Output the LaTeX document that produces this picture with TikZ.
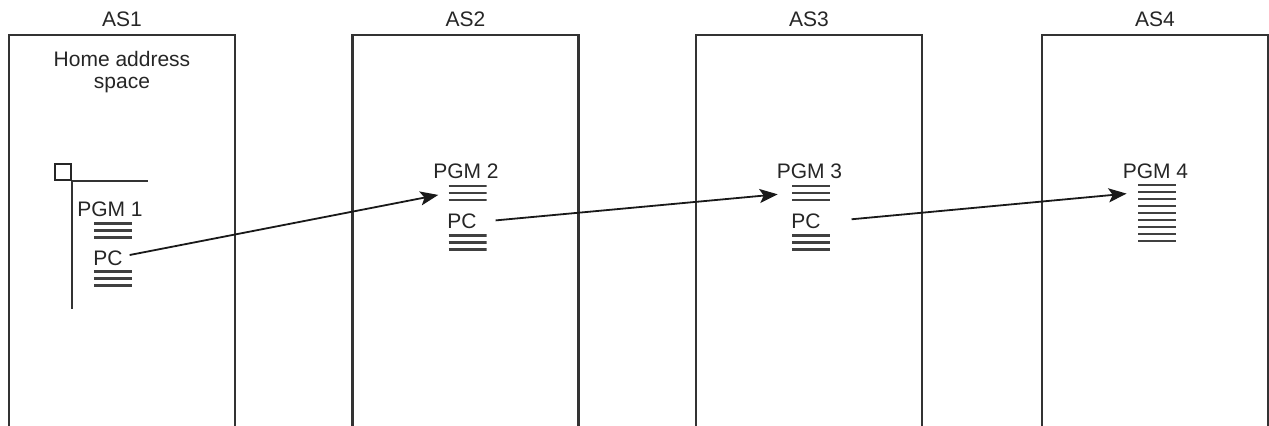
\documentclass[tikz,border=0pt]{standalone}
\usepackage{fontspec}
\setmainfont{Liberation Sans}
\usetikzlibrary{arrows.meta}
\tikzset{
  asbox/.style={draw=black!80,line width=1.1pt,minimum width=113pt,minimum height=220pt,anchor=north,inner sep=0pt},
  pgmstack/.style={minimum width=19pt,minimum height=#1*3.5pt,inner sep=0pt,
    path picture={\foreach \k in {1,...,#1}
      \draw[line width=1.2pt,black!75]
        ([yshift={-(\k-0.5)*3.5pt}]path picture bounding box.north west) --
        ([yshift={-(\k-0.5)*3.5pt}]path picture bounding box.north east);}},
  callarrow/.style={-{Stealth[length=9pt,width=7pt,inset=2pt]},line width=0.9pt,black!90},
}
\begin{document}
\begin{tikzpicture}[x=0.5pt,y=-0.5pt,font=\fontsize{10.5}{12}\selectfont,text=black!85]
  \useasboundingbox (0,0) rectangle (1269,425);
  \clip (0,0) rectangle (1269,425);
  % address spaces
  \node[asbox] (as1) at (122,34) {};
  \node[asbox] (as2) at (465.5,34) {};
  \node[asbox] (as3) at (809,34) {};
  \node[asbox] (as4) at (1155,34) {};
  \node (as1name) at (122,19) {AS1};
  \node (as2name) at (465.5,19) {AS2};
  \node (as3name) at (809,19) {AS3};
  \node (as4name) at (1155,19) {AS4};
  \node[align=center,font=\fontsize{10.5}{11}\selectfont] (home) at (122,72) {Home address\\space};
  % home marker
  \node[draw=black!85,line width=0.9pt,minimum size=8pt,inner sep=0pt] (mark) at (63,172) {};
  \draw[black!80,line width=0.9pt] (mark.south east) -- ++(76,0);
  \draw[black!80,line width=0.9pt] (mark.south east) -- ++(0,128);
  % programs
  \node (pgm1) at (110,209) {PGM 1};
  \node[pgmstack=3] (pgm1s) at (113,230.5) {};
  \node (pc1) at (108,258) {PC};
  \node[pgmstack=3] (pc1s) at (113,278.5) {};
  \node (pgm2) at (466,171) {PGM 2};
  \node[pgmstack=3] (pgm2s) at (467.5,193) {};
  \node (pc2) at (462,221.5) {PC};
  \node[pgmstack=3] (pc2s) at (467.5,242.5) {};
  \node (pgm3) at (809.5,171) {PGM 3};
  \node[pgmstack=3] (pgm3s) at (811,193) {};
  \node (pc3) at (806,221.5) {PC};
  \node[pgmstack=3] (pc3s) at (811,242.5) {};
  \node (pgm4) at (1155.5,171) {PGM 4};
  \node[pgmstack=9] (pgm4s) at (1157,213) {};
  % calls
  \draw[callarrow,shorten >=5pt] ([yshift=1.5pt]pc1.east) -- (pgm2s.west);
  \draw[callarrow,shorten <=6pt,shorten >=7pt] (pc2.east) -- (pgm3s.west);
  \draw[callarrow,shorten <=12pt,shorten >=5.5pt] (pc3.east) -- ([yshift=-5.75pt]pgm4s.north west);
\end{tikzpicture}
\end{document}
